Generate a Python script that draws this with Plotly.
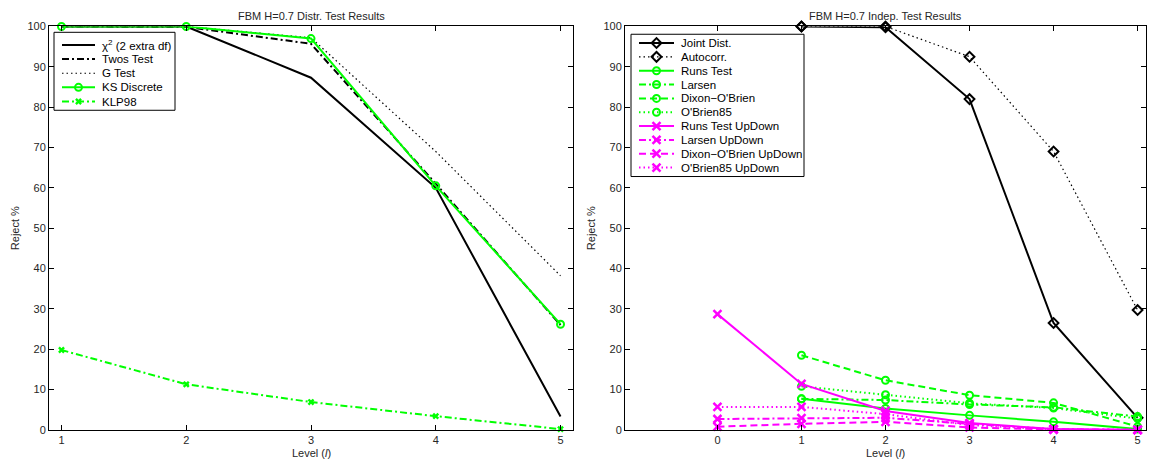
import plotly.graph_objects as go

# ---------------- data ----------------
levels_distr = [1, 2, 3, 4, 5]
chi2_extra = [100, 100, 87.3, 60.0, 3.3]
twos_test = [100, 99.9, 95.7, 61.0, 26.0]
g_test = [100, 100, 97.2, 69.0, 38.2]
ks_discrete = [100, 100, 97.0, 60.5, 26.2]
klp98 = [19.8, 11.3, 6.9, 3.4, 0.2]

levels_indep = [1, 2, 3, 4, 5]
joint_dist = [100, 99.8, 82.0, 26.5, 3.0]
autocorr = [100, 100, 92.5, 69.0, 29.7]
runs_test = [7.7, 5.3, 3.6, 2.0, 0.2]
larsen = [7.7, 7.4, 6.3, 5.6, 3.3]
dixon_obrien = [18.5, 12.3, 8.6, 6.7, 0.8]
obrien85 = [10.8, 8.7, 6.6, 5.4, 2.8]

levels_updown = [0, 1, 2, 3, 4, 5]
runs_updown = [28.7, 11.4, 4.7, 1.7, 0.2, 0.0]
larsen_updown = [2.7, 2.9, 3.0, 1.5, 0.2, 0.0]
dixon_updown = [0.8, 1.5, 2.0, 0.6, 0.1, 0.0]
obrien85_updown = [5.7, 5.7, 3.9, 1.2, 0.1, 0.0]

distr_ticks = [1, 2, 3, 4, 5]
indep_ticks = [0, 1, 2, 3, 4, 5]
reject_ticks = [0, 10, 20, 30, 40, 50, 60, 70, 80, 90, 100]

# ---------------- styles ----------------
BLACK = "#000000"
GREEN = "#00FF00"
MAGENTA = "#FF00FF"
FONT = "Liberation Sans, Arial, Helvetica, sans-serif"
TXT = "#262626"

DASH = "7px,4px"
DOT = "1.5px,3px"
DASHDOT = "7px,3px,2px,3px"

W, H = 1150, 470

# series description: (name, x, y, color, dash, width, symbol, msize, mwidth)
left_series = [
    ("χ<sup>2</sup> (2 extra df)", levels_distr, chi2_extra, BLACK, "solid", 2, None, 0, 0),
    ("Twos Test", levels_distr, twos_test, BLACK, DASHDOT, 2, None, 0, 0),
    ("G Test", levels_distr, g_test, BLACK, DOT, 1.2, None, 0, 0),
    ("KS Discrete", levels_distr, ks_discrete, GREEN, "solid", 2, "circle-open", 7, 2),
    ("KLP98", levels_distr, klp98, GREEN, DASHDOT, 2, "x", 6, 0),
]

right_series = [
    ("Joint Dist.", levels_indep, joint_dist, BLACK, "solid", 2, "diamond-open", 7.5, 2),
    ("Autocorr.", levels_indep, autocorr, BLACK, DOT, 1.2, "diamond-open", 7.5, 2),
    ("Runs Test", levels_indep, runs_test, GREEN, "solid", 2, "circle-open", 7, 2),
    ("Larsen", levels_indep, larsen, GREEN, DASHDOT, 2, "circle-open", 7, 2),
    ("Dixon−O'Brien", levels_indep, dixon_obrien, GREEN, DASH, 2, "circle-open", 7, 2),
    ("O'Brien85", levels_indep, obrien85, GREEN, DOT, 2, "circle-open", 7, 2),
    ("Runs Test UpDown", levels_updown, runs_updown, MAGENTA, "solid", 2, "x-thin-open", 8, 2.5),
    ("Larsen UpDown", levels_updown, larsen_updown, MAGENTA, DASHDOT, 2, "x-thin-open", 8, 2.5),
    ("Dixon−O'Brien UpDown", levels_updown, dixon_updown, MAGENTA, DASH, 2, "x-thin-open", 8, 2.5),
    ("O'Brien85 UpDown", levels_updown, obrien85_updown, MAGENTA, DOT, 2, "x-thin-open", 8, 2.5),
]


def marker_of(color, symbol, size, mwidth):
    if symbol is None:
        return None
    if symbol == "x":
        return dict(symbol="x", size=size, color=color, line=dict(width=0))
    return dict(symbol=symbol, size=size, color=color, line=dict(color=color, width=mwidth))


fig = go.Figure()


def add_series(series, xa, ya):
    for name, xs, ys, color, dash, width, symbol, msize, mwidth in series:
        mk = marker_of(color, symbol, msize, mwidth)
        fig.add_trace(go.Scatter(
            x=xs, y=ys, name=name, xaxis=xa, yaxis=ya,
            mode="lines+markers" if mk else "lines",
            line=dict(color=color, dash=dash, width=width),
            marker=mk, cliponaxis=False, showlegend=False, hoverinfo="skip",
        ))


add_series(left_series, "x", "y")
add_series(right_series, "x2", "y2")


# ---------------- legends (boxes drawn on a pixel-unit overlay axis) ----------------
def add_legend(series, box, line_x0, line_x1, text_x, row_y0, row_step):
    bx0, by0, bx1, by1 = box
    fig.add_trace(go.Scatter(
        x=[bx0, bx1, bx1, bx0, bx0], y=[by0, by0, by1, by1, by0],
        xaxis="x3", yaxis="y3", mode="lines", fill="toself",
        fillcolor="white", line=dict(color=BLACK, width=1),
        showlegend=False, hoverinfo="skip", cliponaxis=False,
    ))
    for i, (name, xs, ys, color, dash, width, symbol, msize, mwidth) in enumerate(series):
        yy = row_y0 + i * row_step
        fig.add_trace(go.Scatter(
            x=[line_x0, line_x1], y=[yy, yy], xaxis="x3", yaxis="y3",
            mode="lines", line=dict(color=color, dash=dash, width=width),
            showlegend=False, hoverinfo="skip", cliponaxis=False,
        ))
        mk = marker_of(color, symbol, msize, mwidth)
        if mk:
            fig.add_trace(go.Scatter(
                x=[(line_x0 + line_x1) / 2], y=[yy], xaxis="x3", yaxis="y3",
                mode="markers", marker=mk,
                showlegend=False, hoverinfo="skip", cliponaxis=False,
            ))
        fig.add_annotation(
            x=text_x, y=yy, xref="x3", yref="y3", text=name, showarrow=False,
            xanchor="left", yanchor="middle",
            font=dict(family=FONT, size=11.5, color=BLACK),
        )


add_legend(left_series, (54, 27, 175, 107), 62, 95, 100, 40, 14.5)
add_legend(right_series, (631, 29, 804, 175), 639, 674, 679, 38, 14.2)

# ---------------- axes ----------------
xl = [49 / W, 573 / W]
xr = [625 / W, 1146 / W]
yd = [35 / H, 449 / H]

axis_common = dict(
    showline=True, linecolor=BLACK, linewidth=1, mirror="ticks",
    ticks="inside", ticklen=5, tickwidth=1, tickcolor=BLACK,
    showgrid=False, zeroline=False,
    tickfont=dict(family=FONT, size=11, color=TXT),
)

fig.update_layout(
    width=W, height=H,
    margin=dict(l=0, r=0, t=0, b=0),
    paper_bgcolor="white", plot_bgcolor="rgba(0,0,0,0)",
    showlegend=False,
    xaxis=dict(domain=xl, range=[0.9, 5.1], tickvals=distr_ticks, anchor="y", **axis_common),
    yaxis=dict(domain=yd, range=[0, 100], tickvals=reject_ticks, anchor="x", **axis_common),
    xaxis2=dict(domain=xr, range=[-1.1, 5.1], tickvals=indep_ticks, anchor="y2", **axis_common),
    yaxis2=dict(domain=yd, range=[0, 100], tickvals=reject_ticks, anchor="x2", **axis_common),
    xaxis3=dict(domain=[0, 1], range=[0, W], visible=False, anchor="y3", fixedrange=True),
    yaxis3=dict(domain=[0, 1], range=[H, 0], visible=False, anchor="x3", fixedrange=True),
)

# titles and axis labels
labels = [
    ("FBM H=0.7 Distr. Test Results", (xl[0] + xl[1]) / 2, 1 - 10 / H, 0),
    ("FBM H=0.7 Indep. Test Results", (xr[0] + xr[1]) / 2, 1 - 10 / H, 0),
    ("Level (<i>l</i>)", (xl[0] + xl[1]) / 2, 1 - 459 / H, 0),
    ("Level (<i>l</i>)", (xr[0] + xr[1]) / 2, 1 - 459 / H, 0),
    ("Reject %", 15 / W, 1 - 228 / H, -90),
    ("Reject %", 591 / W, 1 - 228 / H, -90),
]
for text, x, y, ang in labels:
    fig.add_annotation(
        x=x, y=y, xref="paper", yref="paper", text=text, showarrow=False,
        xanchor="center", yanchor="middle", textangle=ang,
        font=dict(family=FONT, size=11, color=TXT),
    )

fig.write_html("out.html")
